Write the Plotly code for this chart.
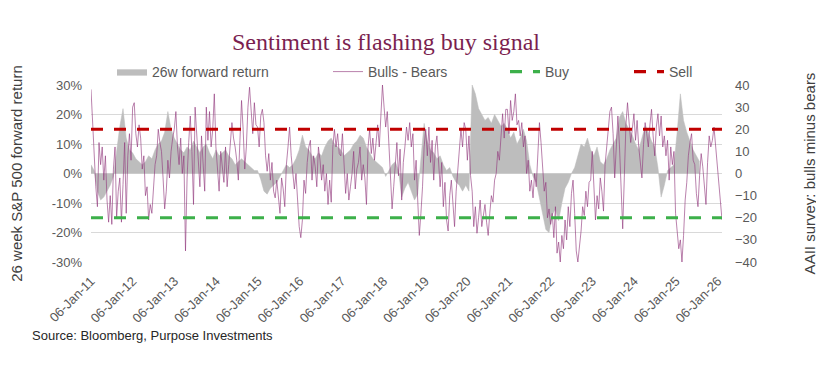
import pandas as pd
import plotly.graph_objects as go

# ---------------- data ----------------
start_date = "2011-01-06"

# AAII bulls minus bears spread, read roughly every two weeks
bulls_minus_bears = [
    # 2011
    38, 22, 10, -6, -15, 14, 4, 12, -3, 8, -12, -22, -10, -23, 2, 12, -20, -8, -2, -22, -5, 14, -18, 8, 18, 6,
    # 2012
    30, 32, 18, 12, 22, 16, 2, 8, -10, -6, -21, -14, -18, -9, 4, 8, 20, 14, 10, -2, -16, -8, 6, -2, 10, 16,
    # 2013
    20, 28, 12, 4, 16, 0, 8, -35, -2, 14, 26, 10, -14, 30, 16, 4, -6, 17, 4, -8, 30, 15, 28, 12, 20, 36,
    # 2014
    12, 0, -8, 10, 4, -4, 12, -6, 4, 12, 23, 16, 12, 6, -3, 15, 33, 20, 2, 12, 30, 39, 28, 18, 32, 22,
    # 2015
    21, 12, 26, 29, 23, 8, 1, 9, -3, 5, -8, -11, -3, -11, -18, -2, -7, -15, 4, 12, 21, 8, -1, -7, 0, -14,
    # 2016
    -24, -29, -21, -3, -9, 5, 12, 15, -3, 8, 3, -6, 12, 6, -3, 4, -8, 0, -14, -3, -13, 12, 20, 12, 18, 9,
    # 2017
    8, 18, 4, -9, 0, -12, -6, 0, 10, -7, 2, 5, 12, -3, 4, -2, -14, 12, 20, 9, 16, 6, 14, 22, 12, 27,
    # 2018
    40, 30, 21, 28, 14, 2, -16, -6, 4, 14, -1, 11, -12, 5, 12, 21, 15, 23, 12, 18, -3, 6, -12, -28, -18, -6,
    # 2019
    12, 20, 8, 21, 5, 15, -3, 12, 17, 2, -6, 5, -15, -4, -21, -26, -10, -3, -12, -24, -8, 3, 12, 20, 12, 23,
    # 2020
    20, 6, 17, -1, -8, -24, -15, -27, -20, -12, -24, -18, -14, -22, -28, -18, -10, -13, -3, 0, 10, 6, 18, 27, 16, 29,
    # 2021
    29, 18, 33, 24, 28, 36, 22, 24, 17, 23, 12, 17, 0, 6, -8, -3, -11, 0, -6, 12, 23, 14, 2, -8, -4, -20,
    # 2022
    -16, -23, -18, -29, -15, -36, -31, -40, -28, -34, -21, -30, -15, -24, -9, -3, -18, -35, -40, -33, -26, -15, -19, -8, -15, -4,
    # 2023
    -3, 10, -4, -21, -10, -16, -2, -8, -17, 4, 12, 22, 28, 30, 18, -2, 16, 26, 12, -3, -25, -2, 22, 32, 24, 14,
    # 2024
    20, 27, 15, 24, 12, 5, -2, 13, 23, 18, 12, 22, 29, 17, 8, 21, 27, 17, 26, 12, 17, 8, 15, -3, 12, 4,
    # 2025
    10, -18, -25, -34, -30, -40, -28, -12, -4, 8, 14, 18, 6, 4, -9, -15, -1, 9, 3, -7, -14, 5, 17, 12, 15, 21,
    # 2026
    12, 6, -4, -12, -21,
]

# 26-week S&P 500 forward return (%), read roughly every four weeks
forward_return_pct = [
    # 2011
    3, 1, -6, -9, -8, -6, -4, -1, 8, 16, 22, 12, 8,
    # 2012
    7, 5, 4, 3, 4, 6, 5, 8, 10, 11, 14, 21, 15,
    # 2013
    12, 10, 8, 7, 9, 8, 11, 9, 7, 9, 10, 7, 5,
    # 2014
    8, 6, 7, 8, 6, 5, 3, 4, 5, 4, 3, 2, 1,
    # 2015
    1, -2, -6, -7, -5, -4, -3, -1, 1, 3, 2, 3, 5,
    # 2016
    8, 13, 9, 8, 6, 5, 7, 6, 9, 11, 12, 10, 9,
    # 2017
    8, 6, 7, 8, 10, 11, 13, 12, 9, 7, 5, 4, 3,
    # 2018
    2, -1, 1, 3, 4, 1, -8, -5, -3, -6, -9, -7, 4,
    # 2019
    17, 11, 8, 7, 5, 6, 3, 1, 2, -1, -3, -4, -6,
    # 2020
    -4, -6, 30, 27, 22, 20, 18, 19, 17, 20, 18, 16, 17,
    # 2021
    15, 12, 14, 10, 12, 15, 11, 3, -1, -3, -8, -14, -19,
    # 2022
    -20, -14, -12, -16, -10, -5, -3, 0, 2, 6, 10, 9, 12,
    # 2023
    8, 6, 9, 4, 3, 5, 8, 10, 12, 19, 21, 17, 15,
    # 2024
    13, 10, 8, 12, 16, 14, 11, 9, 2, -8, -4, 1, 2,
    # 2025
    3, 14, 27, 18, 14, 11, 8, 6, 4,
]

buy_level = -20
sell_level = 20

tick_years = list(range(2011, 2027))
tick_dates = [f"{y}-01-06" for y in tick_years]
tick_labels = [f"06-Jan-{y % 100:02d}" for y in tick_years]

left_ticks = [-30, -20, -10, 0, 10, 20, 30]
left_tick_labels = ["-30%", "-20%", "-10%", "0%", "10%", "20%", "30%"]
right_ticks = [-40, -30, -20, -10, 0, 10, 20, 30, 40]

# ---------------- figure ----------------
bb_dates = pd.date_range(start_date, periods=len(bulls_minus_bears), freq="14D")
fr_dates = pd.date_range(start_date, periods=len(forward_return_pct), freq="28D")
x_span = [bb_dates[0], bb_dates[-1]]

FONT = "Arial, Liberation Sans, sans-serif"
TXT = "#595959"

# the page body adds an 8px offset; figure is sized so it fits the 824x367 window
OFF = 8
W, H = 824 - OFF, 367 - OFF


def cx(px):
    return (px - OFF) / W


def cy(py):
    return 1 - (py - OFF) / H


fig = go.Figure()
fig.add_trace(go.Scatter(
    x=fr_dates, y=forward_return_pct, name="26w forward return",
    mode="lines", fill="tozeroy", fillcolor="#bdbdbd",
    line=dict(color="#bdbdbd", width=0.5), yaxis="y", legend="legend",
))
fig.add_trace(go.Scatter(
    x=bb_dates, y=bulls_minus_bears, name="Bulls - Bears",
    mode="lines", line=dict(color="rgba(145,55,125,0.7)", width=0.9),
    yaxis="y2", legend="legend2",
))
fig.add_trace(go.Scatter(
    x=x_span, y=[buy_level, buy_level], name="Buy", mode="lines",
    line=dict(color="#3cb04a", width=3.2, dash="12px,11px"),
    yaxis="y2", legend="legend3",
))
fig.add_trace(go.Scatter(
    x=x_span, y=[sell_level, sell_level], name="Sell", mode="lines",
    line=dict(color="#c00000", width=3.2, dash="12px,11px"),
    yaxis="y2", legend="legend4",
))


def leg(text_left_px):
    return dict(
        orientation="h", xref="container", yref="container",
        x=cx(text_left_px - 40), y=cy(72), xanchor="left", yanchor="middle",
        font=dict(family=FONT, size=14, color=TXT),
        bgcolor="rgba(0,0,0,0)", borderwidth=0,
    )


plot_l, plot_r, plot_t, plot_b = 91, 722, 85, 262

fig.update_layout(
    width=W, height=H,
    margin=dict(l=plot_l - OFF, r=824 - plot_r, t=plot_t - OFF, b=367 - plot_b, autoexpand=False),
    paper_bgcolor="white", plot_bgcolor="white",
    title=dict(
        text="Sentiment is flashing buy signal",
        font=dict(family="Liberation Serif, Times New Roman, serif", size=24, color="#7b1f50"),
        x=cx(386), y=cy(42), xanchor="center", yanchor="middle", xref="container", yref="container",
    ),
    showlegend=True,
    legend=leg(152), legend2=leg(368), legend3=leg(545), legend4=leg(669),
    xaxis=dict(
        type="date", range=x_span, tickvals=tick_dates, ticktext=tick_labels,
        tickangle=-45, showgrid=False, zeroline=False, showline=False,
        ticks="", tickfont=dict(family=FONT, size=13, color=TXT),
        ticklabelstandoff=8, automargin=False,
    ),
    yaxis=dict(
        range=[-30, 30], tickvals=left_ticks, ticktext=left_tick_labels,
        showgrid=True, gridcolor="#d9d9d9", gridwidth=1, zeroline=False,
        ticks="", tickfont=dict(family=FONT, size=13, color=TXT),
        ticklabelstandoff=8, automargin=False,
        title=dict(text="26 week S&P 500 forward return", font=dict(family=FONT, size=15, color="#404040"), standoff=37),
    ),
    yaxis2=dict(
        range=[-40, 40], tickvals=right_ticks, overlaying="y", side="right",
        showgrid=False, zeroline=False, ticks="",
        tickfont=dict(family=FONT, size=13, color=TXT),
        ticklabelstandoff=12, automargin=False,
        title=dict(text="AAII survey: bulls minus bears", font=dict(family=FONT, size=15, color="#404040"), standoff=48),
    ),
    annotations=[dict(
        text="Source: Bloomberg, Purpose Investments", xref="paper", yref="paper",
        x=(30 - plot_l) / (plot_r - plot_l), y=(plot_b - 335) / (plot_b - plot_t),
        xanchor="left", yanchor="middle",
        showarrow=False, font=dict(family=FONT, size=13, color="#262626"),
    )],
)

fig.write_html("out.html")
